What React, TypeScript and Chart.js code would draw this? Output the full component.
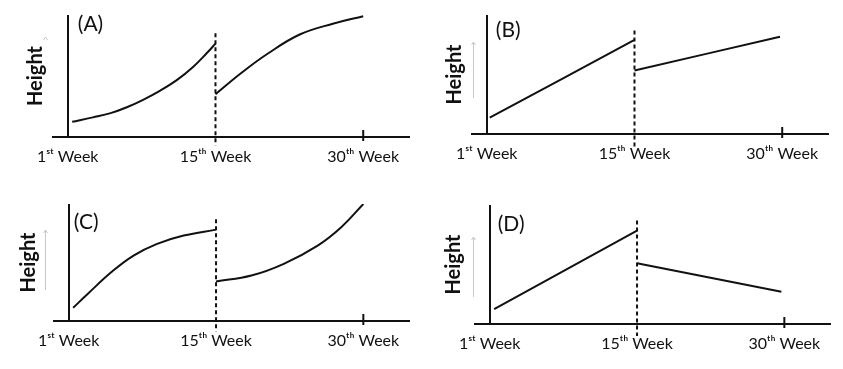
import React, { useEffect, useRef } from 'react';
import { Chart, registerables } from 'chart.js';

Chart.register(...registerables);

// ---- data ----
const xTickValues = [0, 1, 2];
const xTickLabels = ['1ˢᵗ Week', '15ᵗʰ Week', '30ᵗʰ Week'];
const panelLetters = ['(A)', '(B)', '(C)', '(D)'];
const yAxisTitle = 'Height';

// Panel A
const aBeforeX = [0.03, 0.17, 0.29, 0.4, 0.51, 0.62, 0.74, 0.85, 0.94, 1.0];
const aBeforeY = [12.5, 16.1, 19.6, 24.4, 30.5, 37.6, 46.8, 57.6, 68.6, 76.5];
const aAfterX = [1.0, 1.17, 1.35, 1.57, 1.8, 2.0];
const aAfterY = [35, 52, 68, 84, 93, 99];
// Panel B
const bBeforeX = [0.02, 1.0];
const bBeforeY = [13.7, 79];
const bAfterX = [1.0, 1.985];
const bAfterY = [53.3, 81.8];
// Panel C
const cBeforeX = [0.03, 0.13, 0.29, 0.44, 0.6, 0.78, 1.0];
const cBeforeY = [11.3, 23.3, 41.8, 55.9, 65.9, 73, 78.1];
const cAfterX = [1.0, 1.24, 1.46, 1.69, 1.85, 2.0];
const cAfterY = [33.8, 38.9, 48.9, 64.5, 80.2, 100];
// Panel D
const dBeforeX = [0.03, 1.0];
const dBeforeY = [12.6, 78.4];
const dAfterX = [1.0, 1.98];
const dAfterY = [51.1, 27.1];

// dashed divider at the 15th week (value range)
const dividerTop = [85, 87, 87, 87];
const dividerBottom = [-7, -12, -9, -10];

const beforeXs = [aBeforeX, bBeforeX, cBeforeX, dBeforeX];
const beforeYs = [aBeforeY, bBeforeY, cBeforeY, dBeforeY];
const afterXs = [aAfterX, bAfterX, cAfterX, dAfterX];
const afterYs = [aAfterY, bAfterY, cAfterY, dAfterY];

// ---- layout (positions / sizes) ----
const layouts = [
  { x: 0, y: 0, w: 421, h: 184, left: 53, right: 409, top: 15, bottom: 137, titleCenter: 36, letterDx: 10, letterDy: -1, hint: { kind: 'caret', x: 45, y1: 37, y2: 41 } },
  { x: 421, y: 0, w: 422, h: 184, left: 51, right: 407, top: 15, bottom: 134, titleCenter: 34, letterDx: 9, letterDy: 5, hint: { kind: 'line', x: 52, y1: 42, y2: 98 } },
  { x: 0, y: 184, w: 421, h: 185, left: 54, right: 409, top: 20, bottom: 137, titleCenter: 29, letterDx: 5, letterDy: 8, hint: { kind: 'line', x: 45, y1: 46, y2: 106 } },
  { x: 421, y: 184, w: 422, h: 185, left: 54, right: 409, top: 21, bottom: 140, titleCenter: 33, letterDx: 8, letterDy: 9, hint: { kind: 'line', x: 52, y1: 53, y2: 113 } },
];

const FONT = "Lato, 'DejaVu Sans', sans-serif";
const INK = '#111111';

const zip = (xs: number[], ys: number[]) => xs.map((x, i) => ({ x, y: ys[i] }));

function Panel({ index }: { index: number }) {
  const ref = useRef<HTMLCanvasElement | null>(null);
  const L = layouts[index];

  useEffect(() => {
    if (!ref.current) return;
    const decor = {
      id: 'decor' + index,
      afterDatasetsDraw(chart: any) {
        const { ctx, chartArea, scales } = chart;
        const xs = scales.x;
        ctx.save();
        // tick mark at the 30th week
        const px = xs.getPixelForValue(xTickValues[2]);
        ctx.strokeStyle = INK;
        ctx.lineWidth = 2;
        ctx.beginPath();
        ctx.moveTo(px, chartArea.bottom - 7);
        ctx.lineTo(px, chartArea.bottom + 4);
        ctx.stroke();
        // panel letter
        ctx.fillStyle = INK;
        ctx.font = `21px ${FONT}`;
        ctx.textBaseline = 'top';
        ctx.textAlign = 'left';
        ctx.fillText(panelLetters[index], xs.getPixelForValue(0) + L.letterDx, chartArea.top + L.letterDy);
        // faint arrow hint next to the axis title
        const h = L.hint;
        ctx.strokeStyle = '#c9c9c9';
        ctx.lineWidth = 1;
        ctx.beginPath();
        if (h.kind === 'line') {
          ctx.moveTo(h.x + 0.5, h.y1);
          ctx.lineTo(h.x + 0.5, h.y2);
        }
        ctx.moveTo(h.x - 2 + 0.5, h.y1 + 3);
        ctx.lineTo(h.x + 0.5, h.y1);
        ctx.lineTo(h.x + 2 + 0.5, h.y1 + 3);
        ctx.stroke();
        ctx.restore();
      },
    };

    const lineStyle = {
      showLine: true,
      borderColor: INK,
      borderWidth: 2,
      pointRadius: 0,
      tension: 0.4,
    };

    const chart = new Chart(ref.current, {
      type: 'scatter',
      data: {
        datasets: [
          { ...lineStyle, data: zip(beforeXs[index], beforeYs[index]) },
          { ...lineStyle, data: zip(afterXs[index], afterYs[index]) },
          {
            showLine: true,
            borderColor: INK,
            borderWidth: 2,
            borderDash: [4, 3],
            pointRadius: 0,
            clip: false as any,
            data: [
              { x: xTickValues[1], y: dividerTop[index] },
              { x: xTickValues[1], y: dividerBottom[index] },
            ],
          },
        ],
      },
      options: {
        animation: false,
        responsive: false,
        events: [],
        layout: { padding: { top: L.top, right: L.w - L.right, left: 0, bottom: 0 } },
        plugins: { legend: { display: false }, tooltip: { enabled: false } },
        scales: {
          x: {
            type: 'linear',
            min: -0.1,
            max: 2.31,
            afterBuildTicks: (s: any) => {
              s.ticks = xTickValues.map((v) => ({ value: v }));
            },
            afterFit: (s: any) => {
              s.height = L.h - L.bottom;
            },
            ticks: {
              autoSkip: false,
              maxRotation: 0,
              padding: 10,
              color: INK,
              font: { family: FONT, size: 16 },
              callback: (_v: any, i: number) => xTickLabels[i],
            },
            grid: {
              drawTicks: false,
              lineWidth: 2,
              color: (c: any) => (c.tick && c.tick.value === 0 ? INK : 'rgba(0,0,0,0)'),
            },
            border: { display: true, color: INK, width: 2 },
          },
          y: {
            type: 'linear',
            min: 0,
            max: 100,
            afterFit: (s: any) => {
              s.width = L.left;
            },
            ticks: { display: false },
            grid: { display: false },
            border: { display: false },
            title: {
              display: true,
              text: yAxisTitle,
              color: INK,
              font: { family: FONT, size: 20, weight: 'bold' },
              padding: { top: L.titleCenter - 12, bottom: 0 },
            },
          },
        },
      },
      plugins: [decor],
    } as any);
    return () => chart.destroy();
  }, [index]);

  return (
    <canvas
      ref={ref}
      width={L.w}
      height={L.h}
      style={{ position: 'absolute', left: L.x, top: L.y, width: L.w, height: L.h }}
    />
  );
}

export default function App() {
  return (
    <div style={{ position: 'fixed', left: 0, top: 0, width: 843, height: 369, background: '#ffffff', overflow: 'hidden' }}>
      {layouts.map((_, i) => (
        <Panel key={i} index={i} />
      ))}
    </div>
  );
}
